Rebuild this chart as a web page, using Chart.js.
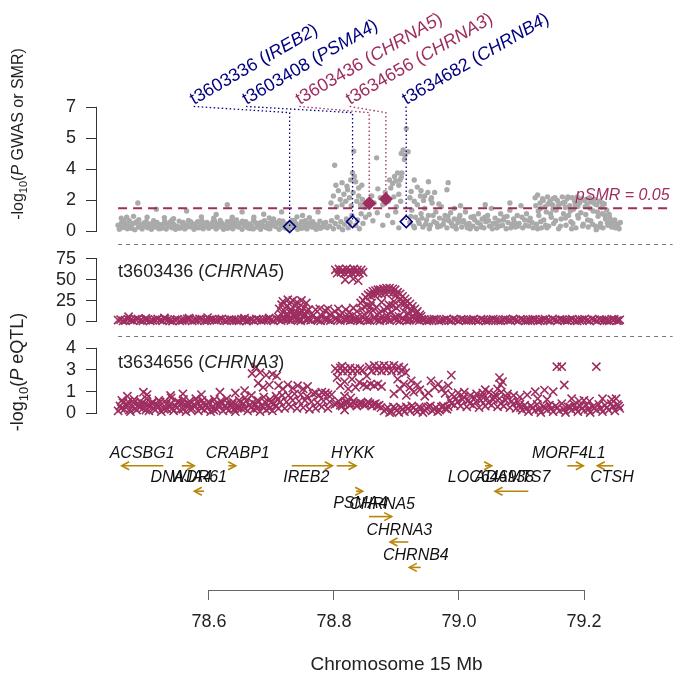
<!DOCTYPE html>
<html>
<head>
<meta charset="utf-8">
<script src="https://cdn.jsdelivr.net/npm/chart.js@4.4.1/dist/chart.umd.min.js"></script>
<style>
  html, body { margin: 0; padding: 0; background: #fff; }
  #wrap { position: relative; width: 680px; height: 678px; }
  #wrap canvas { position: absolute; left: 0; top: 0; }
</style>
</head>
<body>
<div id="wrap">
  <canvas id="gwas" width="680" height="678"></canvas>
  <canvas id="eqtl-a" width="680" height="678"></canvas>
  <canvas id="eqtl-b" width="680" height="678"></canvas>
  <canvas id="genes" width="680" height="678"></canvas>
</div>
<script>
// ---- data (Mb, -log10 P) ----
const gwasLeft = [
  [78.455,.35],[78.457,.12],[78.461,.52],[78.463,.22],[78.467,.41],[78.470,.15],[78.473,.60],[78.476,.28],
  [78.479,.45],[78.482,.10],[78.485,.55],[78.488,.25],[78.491,.38],[78.494,.14],[78.497,.48],[78.500,.30],
  [78.503,.20],[78.506,.42],[78.509,.12],[78.512,.35],[78.515,.25],[78.518,.50],[78.521,.15],[78.524,.38],
  [78.527,.22],[78.530,.45],[78.533,.13],[78.536,.32],[78.539,.52],[78.542,.20],[78.545,.40],[78.548,.12],
  [78.551,.30],[78.554,.58],[78.557,.24],[78.560,.42],[78.563,.14],[78.566,.36],[78.569,.62],[78.572,.26],
  [78.575,.44],[78.578,.12],[78.581,.34],[78.584,.55],[78.587,.22],[78.590,.40],[78.593,.15],[78.596,.30],
  [78.599,.50],[78.602,.18],[78.605,.38],[78.608,.28],[78.611,.60],[78.614,.14],[78.617,.42],[78.620,.26],
  [78.623,.48],[78.626,.12],[78.629,.35],[78.632,.55],[78.635,.22],[78.638,.40],[78.641,.15],[78.644,.30],
  [78.647,.65],[78.650,.25],[78.653,.45],[78.656,.12],[78.659,.38],[78.662,.55],[78.665,.20],[78.668,.42],
  [78.671,.30],[78.674,.14],[78.677,.50],[78.680,.25],[78.683,.40],[78.686,.12],[78.689,.33],[78.692,.60],
  [78.695,.22],[78.698,.45],[78.701,.15],[78.704,.35],[78.707,.70],[78.710,.28],[78.713,.48],[78.716,.12],
  [78.719,.38],[78.722,.58],[78.725,.20],[78.728,.42],[78.731,.14],[78.734,.33],[78.737,.62],[78.740,.25],
  [78.743,.45],[78.746,.12],[78.749,.35],[78.752,.55],[78.755,.22],[78.758,.40],[78.761,.14],[78.764,.30],
  [78.767,.50],[78.770,.24],[78.773,.42],[78.776,.12],[78.779,.36],[78.782,.58],[78.785,.22],[78.788,.45],
  [78.487,1.6],[78.469,.8],[78.502,.8],[78.517,1.25],[78.566,1.15],[78.614,.95],[78.632,1.5],[78.656,1.1],
  [78.691,.97],[78.72,1.1],[78.754,.9],[78.779,1.1],[78.48,.85],[78.53,.78],[78.59,.82],[78.64,.8],
  [78.70,.76],[78.745,.82],[78.46,.75],[78.545,.72],[78.61,.75],[78.675,.8],[78.765,.78]
];
const gwasLeftFill = [
  [78.4585,.25],[78.4645,.62],[78.4705,.38],[78.4765,.18],[78.4825,.48],[78.4885,.66],[78.4945,.3],[78.5005,.55],
  [78.5065,.22],[78.5125,.6],[78.5185,.35],[78.5245,.16],[78.5305,.58],[78.5365,.42],[78.5425,.65],[78.5485,.3],
  [78.5545,.18],[78.5605,.5],[78.5665,.25],[78.5725,.55],[78.5785,.4],[78.5845,.2],[78.5905,.62],[78.5965,.45],
  [78.6025,.3],[78.6085,.52],[78.6145,.35],[78.6205,.62],[78.6265,.25],[78.6325,.18],[78.6385,.6],[78.6445,.48],
  [78.6505,.35],[78.6565,.58],[78.6625,.3],[78.6685,.16],[78.6745,.62],[78.6805,.45],[78.6865,.5],[78.6925,.28],
  [78.6985,.16],[78.7045,.55],[78.7105,.45],[78.7165,.6],[78.7225,.3],[78.7285,.18],[78.7345,.5],[78.7405,.62],
  [78.7465,.3],[78.7525,.18],[78.7585,.6],[78.7645,.45],[78.7705,.55],[78.7765,.28],[78.7825,.18],[78.7885,.3],
  [78.7915,.5],[78.794,.2]
];
const gwasPeak = [
  [78.806,3.73],[78.837,4.52],[78.835,3.3],[78.838,3.1],[78.832,2.9],[78.840,2.8],[78.874,4.15],
  [78.914,4.4],[78.917,4.6],[78.920,4.3],[78.925,4.5],[78.922,5.8],[78.919,4.05],[78.914,3.06],
  [78.905,2.85],[78.910,2.6],[78.900,2.7],[78.935,2.9],[78.940,2.5],[78.946,2.3],[78.958,2.8],
  [78.99,2.75],[78.988,2.35],[78.952,2.0],[78.962,1.8],[78.968,2.2],[78.930,2.25],[78.928,1.9],[78.935,1.7],
  [78.800,1.6],[78.804,2.0],[78.809,1.4],[78.812,2.3],[78.815,1.8],[78.818,1.5],[78.821,2.1],[78.824,1.7],
  [78.827,2.35],[78.830,1.9],[78.833,1.45],[78.836,2.2],[78.842,1.7],[78.845,2.0],[78.848,1.5],[78.851,1.8],
  [78.855,1.35],[78.808,2.6],[78.818,2.75],[78.826,2.55],[78.845,2.45],[78.85,2.6],
  [78.866,2.0],[78.870,1.6],[78.876,2.4],[78.880,1.9],[78.884,1.5],[78.888,2.2],[78.893,1.7],[78.897,2.45],
  [78.902,1.95],[78.906,1.4],[78.910,2.1],[78.913,1.7],[78.895,2.9],[78.903,3.1],[78.908,3.3],[78.915,3.3],[78.912,2.9],
  [78.798,.3],[78.801,.6],[78.804,.15],[78.807,.45],[78.810,.8],[78.813,.25],[78.816,.55],[78.819,.1],
  [78.822,.4],[78.825,.7],[78.828,.2],[78.831,.5],[78.834,.9],[78.840,.35],[78.843,.65],[78.846,.15],
  [78.849,1.0],[78.852,.45],[78.856,.8],[78.862,.95],[78.868,.6],[78.875,1.05],[78.884,.35],[78.892,.9],
  [78.900,.5],[78.905,1.1],[78.91,.2]
];
const gwasRight = [
  [78.928,.5],[78.931,1.2],[78.934,.3],[78.937,.8],[78.940,1.5],[78.943,.45],[78.946,1.0],[78.949,.25],
  [78.952,1.3],[78.955,.65],[78.958,.9],[78.961,.35],[78.964,1.6],[78.967,.55],[78.970,1.1],[78.973,.25],
  [78.976,.75],[78.979,1.4],[78.982,.4],[78.985,.9],[78.988,.2],[78.991,.6],[78.994,1.05],[78.997,.3],
  [79.000,.7],[79.003,.15],[79.006,.5],[79.009,.9],[79.012,.25],[79.015,.6],[79.018,1.1],[79.021,.2],
  [79.024,.45],[79.027,.8],[79.030,.3],[79.033,.65],[79.036,.15],[79.039,1.0],[79.042,.4],[79.045,.7],
  [79.048,.2],[79.051,.55],[79.054,.9],[79.057,.3],[79.060,1.3],[79.063,.45],[79.066,.75],[79.069,.2],
  [79.072,.6],[79.075,1.0],[79.078,.35],[79.081,.8],[79.084,.15],[79.087,.5],[79.090,1.2],[79.093,.4],
  [79.096,.7],[79.099,.25],[79.102,.9],[79.105,.45],[79.108,1.45],[79.111,.2],[79.114,.65],[79.117,1.0],
  [79.120,.3],[79.123,.75],[79.126,.5],
  [78.945,2.0],[78.950,1.75],[78.957,2.2],[78.963,1.9],[78.975,1.55],[79.01,1.45],[79.05,1.5],[79.09,1.6],[79.0,1.3],
  [78.9295,.85],[78.9355,.2],[78.9415,.6],[78.9475,.75],[78.9535,.4],[78.9595,.15],[78.9655,.9],[78.9715,.45],
  [78.9775,.3],[78.9835,.65],[78.9895,.85],[78.9955,.45],[79.0015,.3],[79.0075,.75],[79.0135,.55],[79.0195,.4],
  [79.0255,.15],[79.0315,.85],[79.0375,.5],[79.0435,.25],[79.0495,.8],[79.0555,.6],[79.0615,.15],[79.0675,.45],
  [79.0735,.3],[79.0795,.65],[79.0855,.85],[79.0915,.2],[79.0975,.5],[79.1035,.3],[79.1095,.8],[79.1155,.35],
  [79.1215,.6],[79.1275,.2]
];
const gwasBump = [
  [79.131,1.9],[79.133,.4],[79.135,2.05],[79.137,.9],[79.139,1.6],[79.141,.2],[79.143,1.85],[79.145,.65],
  [79.147,1.4],[79.149,1.1],[79.151,1.95],[79.153,.3],[79.155,1.7],[79.157,.8],[79.159,1.5],[79.161,.45],
  [79.163,1.9],[79.165,1.2],[79.167,1.75],[79.169,.15],[79.171,1.55],[79.173,.7],[79.175,1.95],[79.177,1.0],
  [79.179,1.65],[79.181,.35],[79.183,1.85],[79.185,.9],[79.187,1.45],[79.189,.55],[79.191,1.9],[79.193,1.25],
  [79.195,1.7],[79.197,.2],[79.199,1.95],[79.201,.75],[79.203,1.6],[79.205,1.05],[79.207,1.85],[79.209,.4],
  [79.211,1.75],[79.213,.95],[79.215,1.5],[79.217,.25],[79.219,1.9],[79.221,.6],[79.223,1.65],[79.225,1.15],
  [79.227,1.8],[79.229,.3],[79.231,1.5],[79.233,.85],[79.235,1.7],[79.237,.45],[79.239,1.35],[79.241,.2],
  [79.243,1.55],[79.245,.7],[79.247,1.2],[79.249,.35],[79.251,.95],[79.253,.5],[79.255,.25],[79.258,.6],
  [79.261,.2],[79.264,.4],[79.267,.15],
  [79.14,1.3],[79.16,1.25],[79.18,1.35],[79.2,1.4],[79.22,1.3],[79.24,1.0],[79.15,.2],[79.19,.15],[79.23,.1],[79.135,.15],
  [79.132,1.45],[79.136,1.15],[79.140,.55],[79.144,1.75],[79.148,.35],[79.152,1.55],[79.156,1.0],[79.160,1.85],
  [79.164,.6],[79.168,1.45],[79.172,.3],[79.176,1.6],[79.180,.75],[79.184,1.95],[79.188,1.15],[79.192,.45],
  [79.196,1.5],[79.200,.9],[79.204,1.8],[79.208,.3],[79.212,1.4],[79.216,.65],[79.220,1.7],[79.224,.4],
  [79.228,1.55],[79.232,1.1],[79.236,.25],[79.240,1.6],[79.244,.9],[79.248,.5],[79.252,.75],[79.256,.4],
  [79.260,.65],[79.265,.3],[79.269,.5]
];

// SMR probes
const probeIds = ['t3603336', 't3603408', 't3603436', 't3634656', 't3634682'];
const probeGenes = ['IREB2', 'PSMA4', 'CHRNA5', 'CHRNA3', 'CHRNB4'];
const probeMb = [78.733, 78.835, 78.862, 78.889, 78.922];
const probeSMR = [0.27, 0.55, 1.59, 1.83, 0.55];
const probeSig = [false, false, true, true, false];
const labelMb = [78.5776, 78.6624, 78.7488, 78.8304, 78.9216];
const LABEL_P = 7.05, ELBOW_P = 6.7;
const P_SMR = 0.05;

// eQTL t3603436 (CHRNA5)
const eqtlABase = [
  [78.455,1.5],[78.463,.5],[78.471,2.5],[78.479,1],[78.487,3],[78.495,.5],[78.503,2],[78.511,1.2],
  [78.519,2.8],[78.527,.6],[78.535,1.8],[78.543,.4],[78.551,2.4],[78.559,1],[78.567,3],[78.575,.5],
  [78.583,1.6],[78.591,2.6],[78.599,.8],[78.607,2.2],[78.615,1.2],[78.623,3],[78.631,.5],[78.639,2],
  [78.647,1],[78.655,2.6],[78.663,.4],[78.671,1.8],[78.679,2.8],[78.687,.9],[78.695,2.2],[78.703,1.4],
  [78.711,3],[78.719,.8],[78.727,2],[78.735,1],[78.743,2.5],[78.751,.6],[78.759,1.8],[78.767,1.2],
  [78.775,2.4],[78.783,.5],[78.791,2],[78.799,1],[78.807,2.6],[78.815,.8],[78.823,1.8],[78.831,1],
  [78.839,2.5],[78.847,.6],[78.855,2],[78.863,1.2],[78.871,2.8],[78.879,.7],[78.887,1.9],[78.895,1],
  [78.903,2.6],[78.911,.5],[78.919,2],[78.927,1.3],[78.935,2.8],[78.943,.8],[78.951,2.2],[78.959,1],
  [78.967,2.6],[78.975,.5],[78.983,1.8],[78.991,1.1],[78.999,2.8],[79.007,.6],[79.015,2],[79.023,1.2],
  [79.031,2.5],[79.039,.5],[79.047,1.8],[79.055,1],[79.063,2.6],[79.071,.8],[79.079,2],[79.087,1.3],
  [79.095,2.8],[79.103,.6],[79.111,1.9],[79.119,1],[79.127,2.5],[79.135,.5],[79.143,2],[79.151,1.2],
  [79.159,2.8],[79.167,.7],[79.175,1.8],[79.183,1],[79.191,2.6],[79.199,.5],[79.207,2.1],[79.215,1.2],
  [79.223,2.7],[79.231,.6],[79.239,1.8],[79.247,1],[79.255,2.5],[79.263,.8],[79.268,1.8],
  [78.472,5.5],[78.53,4],[78.6,4.5],[78.66,3.8],[78.7,4.2],[78.5,3.5],[78.57,3.8]
];
const eqtlABaseFill = [
  [78.459,2],[78.467,.8],[78.475,1.5],[78.483,2.6],[78.491,1],[78.499,2.2],[78.507,.6],[78.515,2],
  [78.523,1.4],[78.531,2.8],[78.539,1],[78.547,2],[78.555,.6],[78.563,1.8],[78.571,2.4],[78.579,1.2],
  [78.587,2.8],[78.595,.7],[78.603,2],[78.611,1.4],[78.619,2.5],[78.627,.8],[78.635,2.2],[78.643,1.5],
  [78.651,.6],[78.659,2.4],[78.667,1.2],[78.675,.8],[78.683,2],[78.691,1.5],[78.699,2.8],[78.707,.6],
  [78.715,2],[78.731,2.5],[78.747,1.5],[78.763,2.5],[78.779,1.2],[78.795,2],[78.811,1.5],[78.827,2.5],
  [78.843,1.5],[78.859,1],[78.875,1.5],[78.891,2.5],[78.907,1.5],[78.923,1],[78.939,1.8],[78.947,2.5],
  [78.955,.7],[78.963,1.8],[78.971,2.4],[78.979,1.2],[78.987,2.6],[78.995,.6],[79.003,1.8],[79.011,2.5],
  [79.019,.8],[79.027,1.6],[79.035,1.2],[79.043,2.6],[79.051,.7],[79.059,2],[79.067,1.6],[79.075,.6],
  [79.083,2.4],[79.091,1.2],[79.099,1.8],[79.107,2.6],[79.115,.6],[79.123,1.6],[79.131,2.2],[79.139,1],
  [79.147,2.6],[79.155,.6],[79.163,1.8],[79.171,2.4],[79.179,1.2],[79.187,2],[79.195,.8],[79.203,1.6],
  [79.211,2.6],[79.219,.5],[79.227,1.8],[79.235,2.4],[79.243,1.2],[79.251,.7],[79.259,2.2],[79.266,1]
];
const eqtlABlock = [
  [78.722,24],[78.730,26],[78.738,25],[78.745,23],[78.752,25],[78.760,22],
  [78.716,15],[78.720,20],[78.725,12],[78.728,18],[78.733,21],[78.736,14],[78.741,19],[78.744,11],
  [78.748,17],[78.752,13],[78.756,16],[78.760,12],[78.764,14],
  [78.719,9],[78.727,8],[78.735,10],[78.742,7],[78.75,9],[78.758,8],
  [78.775,14],[78.782,15],[78.790,13],[78.795,15],
  [78.715,5],[78.722,3],[78.729,6],[78.736,4],[78.743,7],[78.750,3],[78.757,6],[78.764,4],
  [78.771,7],[78.778,3],[78.785,6],[78.792,4],[78.799,8]
];
const eqtlATop = [
  [78.807,62],[78.810,58],[78.813,63],[78.816,59],[78.819,62],[78.822,58],[78.825,63],[78.828,59],
  [78.831,62],[78.834,58],[78.837,63],[78.840,59],[78.843,62],[78.846,58],[78.849,62],[78.852,59],
  [78.823,50],[78.836,51],[78.844,49],
  [78.806,12],[78.812,15],[78.818,10],[78.824,14],[78.830,11],[78.836,16],[78.842,12],
  [78.808,4],[78.815,7],[78.822,3],[78.829,6],[78.836,2],[78.843,5]
];
const eqtlAHump = [
  [78.848,22],[78.852,25],[78.856,29],[78.860,32],[78.864,34],[78.868,36],[78.872,37],[78.876,38],
  [78.880,38],[78.885,39],[78.890,40],[78.895,40],[78.900,39],[78.904,38],[78.908,35],[78.912,33],
  [78.916,30],[78.920,27],[78.924,24],[78.928,21],[78.932,18],[78.936,15],[78.940,12],[78.944,8],
  [78.864,30],[78.870,32],[78.876,33],[78.882,33],[78.888,34],[78.894,35],[78.900,34],[78.906,32],
  [78.850,15],[78.854,8],[78.858,19],[78.862,12],[78.866,22],[78.870,5],[78.874,17],[78.878,10],
  [78.882,23],[78.886,14],[78.890,7],[78.894,20],[78.898,11],[78.902,24],[78.906,16],[78.910,6],
  [78.914,21],[78.918,12],[78.922,18],[78.926,9],[78.930,14],[78.934,6],[78.938,10],[78.942,4],
  [78.946,6],[78.856,3],[78.868,13],[78.880,4],[78.892,16],[78.904,5],[78.916,4],[78.928,3],
  [78.9,19],[78.912,26],[78.92,22],[78.864,18]
];

// eQTL t3634656 (CHRNA3)
const eqtlBLeft = [
  [78.455,.15],[78.458,.45],[78.461,.8],[78.465,.25],[78.468,.55],[78.471,.7],[78.475,.1],[78.478,.4],
  [78.481,.85],[78.485,.2],[78.488,.5],[78.491,.75],[78.495,.3],[78.498,.6],[78.501,.9],[78.505,.15],
  [78.508,.45],[78.511,.7],[78.515,.2],[78.518,.55],[78.521,.8],[78.525,.1],[78.528,.35],[78.531,.75],
  [78.535,.25],[78.538,.5],[78.541,.95],[78.545,.15],[78.548,.45],[78.551,.7],[78.555,.2],[78.558,.6],
  [78.561,.85],[78.565,.1],[78.568,.4],[78.571,.75],[78.575,.3],[78.578,.55],[78.581,.9],[78.585,.15],
  [78.588,.45],[78.591,.8],[78.595,.2],[78.598,.5],[78.601,.7],[78.605,.1],[78.608,.4],[78.611,.85],
  [78.615,.25],[78.618,.55],[78.621,.75],[78.625,.15],[78.628,.45],[78.631,.9],[78.635,.2],[78.638,.5],
  [78.641,.7],[78.645,.1],[78.648,.35],[78.651,.8],[78.655,.3],[78.658,.6],[78.661,.95],[78.665,.15],
  [78.668,.5],[78.671,1.1],[78.675,.25],[78.678,.55],[78.681,.8],[78.685,.1],[78.688,.45],[78.691,1.0],
  [78.695,.2],[78.698,.5],[78.701,.85],[78.705,.15],[78.708,.6],[78.711,1.05],[78.715,.3],[78.718,.7],
  [78.721,1.1],
  [78.47,1.05],[78.496,1.3],[78.502,1.15],[78.54,1.1],[78.56,1.2],[78.59,1.15],[78.62,1.3],[78.645,1.25],[78.66,1.4]
];
const eqtlBLeftFill = [
  [78.46,.3],[78.463,.65],[78.47,.5],[78.473,.2],[78.48,.65],[78.483,.3],[78.49,.35],[78.493,.6],
  [78.50,.2],[78.503,.5],[78.51,.6],[78.513,.3],[78.52,.4],[78.523,.7],[78.53,.25],[78.533,.55],
  [78.54,.6],[78.543,.3],[78.55,.35],[78.553,.7],[78.56,.25],[78.563,.55],[78.57,.6],[78.573,.2],
  [78.58,.45],[78.583,.7],[78.59,.3],[78.593,.6],[78.60,.35],[78.603,.65],[78.61,.2],[78.613,.55],
  [78.62,.45],[78.623,.7],[78.63,.3],[78.633,.6],[78.64,.55],[78.643,.25],[78.65,.4],[78.653,.7],
  [78.66,.3],[78.663,.75],[78.67,.35],[78.673,.65],[78.68,.3],[78.683,.75],[78.69,.4],[78.693,.7],
  [78.70,.3],[78.703,.65],[78.71,.45],[78.713,.85]
];
const eqtlBMid = [
  [78.725,.3],[78.728,.7],[78.731,1.1],[78.735,.4],[78.738,.8],[78.741,1.2],[78.745,.3],[78.748,.75],
  [78.751,1.15],[78.755,.35],[78.758,.8],[78.761,1.05],[78.765,.25],[78.768,.7],[78.771,1.2],[78.775,.3],
  [78.778,.65],[78.781,1.1],[78.785,.4],[78.788,.75],[78.791,1.25],[78.795,.3],[78.798,.7],[78.801,1.15],
  [78.715,1.7],[78.722,1.5],[78.73,1.75],[78.738,1.55],[78.746,1.7],[78.755,1.5],[78.762,1.65],
  [78.775,1.25],[78.785,1.3],[78.795,1.15],
  [78.678,2.85],[78.672,2.45],[78.685,2.5],[78.695,2.35],[78.705,2.4],[78.712,2.3],[78.682,1.85],[78.69,1.6],[78.70,1.75]
];
const eqtlBCentre = [
  [78.807,2.75],[78.811,2.6],[78.815,2.8],[78.819,2.6],[78.823,2.75],[78.827,2.6],[78.831,2.8],[78.835,2.6],
  [78.839,2.75],[78.843,2.6],[78.847,2.75],[78.851,2.65],[78.818,2.9],
  [78.810,2.2],[78.815,1.7],[78.822,1.95],[78.828,1.5],[78.834,2.1],[78.84,1.6],[78.846,1.9],[78.822,1.05],[78.832,.95],
  [78.806,.55],[78.812,.75],[78.818,.45],[78.824,.7],[78.83,.5],[78.836,.75],[78.842,.45],[78.848,.65],
  [78.854,.5],[78.86,.7],[78.866,.45],[78.872,.6],[78.878,.5],[78.822,.2],
  [78.809,.6],[78.815,.5],[78.821,.6],[78.827,.65],[78.833,.55],[78.839,.6],[78.845,.6],[78.851,.6],
  [78.857,.55],[78.863,.6],[78.869,.55],[78.875,.45],[78.881,.35],
  [78.862,2.85],[78.866,2.6],[78.870,2.95],[78.874,2.65],[78.878,2.9],[78.882,2.6],[78.886,2.95],[78.890,2.65],
  [78.894,2.9],[78.898,2.6],[78.902,2.95],[78.906,2.65],[78.910,2.85],[78.914,2.6],[78.918,2.8],[78.921,2.5],[78.858,2.3],
  [78.853,1.75],[78.858,1.65],[78.864,1.8],[78.870,1.7],[78.876,1.8],[78.882,1.65],
  [78.886,.15],[78.892,.35],[78.898,.1],[78.904,.3],[78.910,.05],[78.916,.25],[78.922,.4],[78.928,.15],
  [78.934,.35],[78.94,.1],[78.946,.3],[78.952,.2],[78.958,.4],[78.964,.15],[78.97,.35],[78.976,.2],
  [78.982,.45],[78.988,.25],
  [78.889,.25],[78.895,.05],[78.901,.4],[78.907,.2],[78.913,.35],[78.919,.1],[78.925,.3],[78.931,.45],
  [78.937,.2],[78.943,.4],[78.949,.05],[78.955,.3],[78.961,.45],[78.967,.25],[78.973,.1],[78.979,.4],[78.985,.3],
  [78.902,1.2],[78.908,2.1],[78.912,1.5],[78.918,1.8],[78.922,1.1],[78.928,1.6],[78.934,1.3],[78.94,1.75],
  [78.944,1.45],[78.93,2.0],[78.952,1.05],[78.958,1.25],[78.962,2.0],[78.968,1.6],[78.974,1.8],[78.98,1.5],
  [78.99,1.7],[78.995,2.35],[78.985,1.23]
];
const eqtlBRight = [
  [78.99,.4],[78.993,.8],[78.996,1.15],[79.0,.5],[79.003,.9],[79.006,1.25],[79.01,.45],[79.013,.85],
  [79.016,1.3],[79.02,.4],[79.023,.8],[79.026,1.1],[79.03,.5],[79.033,.95],[79.036,1.2],[79.04,.35],
  [79.043,.8],[79.046,1.25],[79.05,.45],[79.053,.9],[79.056,1.3],[79.06,.5],[79.063,.85],[79.066,1.15],
  [79.07,.4],[79.073,.9],[79.076,1.3],[79.08,.45],[79.083,.8],[79.086,1.2],[79.09,.35],[79.093,.75],
  [79.096,1.1],[79.10,.3],[79.103,.7],[79.106,1.0],
  [78.995,.6],[79.005,.7],[79.015,1.0],[79.025,.6],[79.035,.7],[79.045,1.05],[79.055,.65],[79.065,1.0],
  [79.075,.6],[79.085,1.0],[79.095,.55],[79.105,.5],
  [79.073,2.2],[79.078,1.95],[79.075,1.75],[79.070,1.5],[79.05,1.45],
  [79.11,.2],[79.114,.5],[79.12,.1],[79.124,.45],[79.13,.15],[79.134,.55],[79.14,.05],[79.144,.4],
  [79.15,.2],[79.154,.5],[79.16,.1],[79.164,.45],[79.17,.15],[79.174,.6],[79.18,.05],[79.184,.4],
  [79.19,.2],[79.194,.55],[79.20,.1],[79.204,.45],[79.21,.15],[79.214,.5],[79.22,.05],[79.224,.4],
  [79.23,.2],[79.234,.55],[79.24,.1],[79.244,.5],[79.25,.2],[79.254,.6],[79.26,.15],[79.264,.55],[79.268,.3],
  [79.107,.35],[79.117,.3],[79.127,.35],[79.137,.25],[79.147,.35],[79.157,.3],[79.167,.35],[79.177,.25],
  [79.187,.4],[79.197,.3],[79.207,.3],[79.217,.25],[79.227,.35],[79.237,.3],[79.247,.35],[79.257,.4],[79.266,.45],
  [79.118,1.13],[79.131,1.33],[79.146,1.43],[79.16,1.33],[79.166,2.87],[79.174,2.87],[79.178,1.74],
  [79.202,.75],[79.21,.8],[79.219,.75],[79.23,2.87],[79.24,.9],[79.255,.85],[79.262,.9],[79.135,.9],[79.15,.85],[79.19,.9]
];

// genes
const geneNames = ['ACSBG1','DNAJA4','WDR61','CRABP1','IREB2','HYKK','PSMA4','CHRNA5','CHRNA3','CHRNB4','LOC646938','ADAMTS7','MORF4L1','CTSH'];
const geneStart = [78.4603,78.5563,78.5765,78.631,78.7323,78.8043,78.8352,78.856,78.8896,78.9205,79.0416,79.0576,79.1733,79.2213];
const geneEnd = [78.5269,78.5765,78.592,78.6427,78.7973,78.8352,78.8459,78.8923,78.9189,78.9387,79.0523,79.1109,79.1989,79.2469];
const geneStrand = ['-','+','-','+','+','+','+','+','-','-','+','-','+','-'];
const geneRow = [0,0,1,0,0,0,1,2,3,4,0,1,0,0];
const geneLabelMb = [78.493,78.5555,78.584,78.646,78.7557,78.830,78.842,78.877,78.9046,78.931,79.0512,79.0858,79.1757,79.2448];
const geneLabelRow = [-0.47,0.48,0.48,-0.47,0.48,-0.47,1.48,1.53,2.53,3.53,0.48,0.48,-0.47,0.48];

// ticks (R style: evenly spaced positions, rounded labels)
const gwasTicks = [0, 1.75, 3.5, 5.25, 7];
const gwasTickText = ['0', '2', '4', '5', '7'];
const eqtlATicks = [0, 25, 50, 75];
const eqtlATickText = ['0', '25', '50', '75'];
const eqtlBTicks = [0, 1.333, 2.667, 4];
const eqtlBTickText = ['0', '1', '3', '4'];
const xTicks = [78.6, 78.8, 79.0, 79.2];
const xTickText = ['78.6', '78.8', '79.0', '79.2'];

// ---- style / layout ----
const FONT = "'Liberation Sans', Arial, Helvetica, sans-serif";
const GRAY = '#aaaaaa';
const MAROON = '#9e2d60';
const NAVY = '#000080';
const GOLD = '#b8860b';
const INK = '#222222';
const X_MIN = 78.4208, X_MAX = 79.3536;

Chart.defaults.font.family = FONT;
Chart.defaults.color = INK;

const pts = a => a.map(p => ({ x: p[0], y: p[1] }));
const allGwas = gwasLeft.concat(gwasLeftFill, gwasPeak, gwasRight, gwasBump);
const firstSnp = Math.min(...allGwas.map(p => p[0]));

function fontFor(p, size) {
  const s = p.sub ? Math.round(size * 0.7) : size;
  return (p.italic ? 'italic ' : '') + s + 'px ' + FONT;
}
function richWidth(ctx, parts, size) {
  let w = 0;
  for (const p of parts) { ctx.font = fontFor(p, size); w += ctx.measureText(p.t).width; }
  return w;
}
function drawRich(ctx, parts, x, y, size) {
  ctx.textAlign = 'left';
  ctx.textBaseline = 'alphabetic';
  for (const p of parts) {
    ctx.font = fontFor(p, size);
    ctx.fillText(p.t, x, y + (p.sub ? size * 0.25 : 0));
    x += ctx.measureText(p.t).width;
  }
}
function drawVTitle(ctx, parts, cx, cy, size) {
  ctx.save();
  ctx.translate(cx, cy);
  ctx.rotate(-Math.PI / 2);
  ctx.fillStyle = INK;
  const w = richWidth(ctx, parts, size);
  drawRich(ctx, parts, -w / 2, size * 0.36, size);
  ctx.restore();
}
function drawYAxisLine(ctx, s, ticks) {
  const x = Math.round(s.right) - 0.5;
  ctx.save();
  ctx.strokeStyle = '#333';
  ctx.lineWidth = 1;
  ctx.beginPath();
  ctx.moveTo(x, s.getPixelForValue(ticks[0]) + 0.5);
  ctx.lineTo(x, s.getPixelForValue(ticks[ticks.length - 1]) - 0.5);
  ctx.stroke();
  ctx.restore();
}
function drawSeparator(chart) {
  const { ctx, chartArea, scales: { x } } = chart;
  const y = Math.round(chartArea.top) + 0.5;
  ctx.save();
  ctx.strokeStyle = '#777';
  ctx.lineWidth = 1;
  ctx.setLineDash([4, 4]);
  ctx.beginPath();
  ctx.moveTo(x.getPixelForValue(firstSnp), y);
  ctx.lineTo(chartArea.right, y);
  ctx.stroke();
  ctx.restore();
}

function hiddenX() {
  return { type: 'linear', min: X_MIN, max: X_MAX, bounds: 'data', display: false };
}
function rAxisY(min, max, ticks, text) {
  return {
    type: 'linear', min, max, bounds: 'data',
    afterFit: s => { s.width = 97; s.paddingTop = 0; s.paddingBottom = 0; },
    afterBuildTicks: s => { s.ticks = ticks.map(v => ({ value: v })); },
    ticks: { autoSkip: false, padding: 10, color: INK, font: { size: 18 }, callback: (v, i) => text[i] },
    grid: { drawOnChartArea: false, drawTicks: true, tickLength: 11, color: '#333' },
    border: { display: false }
  };
}
function baseOptions(top, bottom, left, scales) {
  return {
    responsive: false, animation: false, devicePixelRatio: 1, events: [],
    layout: { padding: { top, bottom, left, right: 0 } },
    plugins: { legend: { display: false }, tooltip: { enabled: false } },
    scales
  };
}
function crosses(data) {
  return {
    data: pts(data), pointStyle: 'crossRot', pointRadius: 5.8,
    pointBorderColor: MAROON, pointBackgroundColor: MAROON, pointBorderWidth: 1.6
  };
}

// ---- panel 1: GWAS / SMR ----
const probeLines = probeIds.map((id, i) => ({
  data: [{ x: labelMb[i], y: LABEL_P }, { x: probeMb[i], y: ELBOW_P }, { x: probeMb[i], y: probeSMR[i] }],
  showLine: true, borderColor: probeSig[i] ? MAROON : NAVY, borderWidth: 1.3, borderDash: [1.5, 2.5],
  pointRadius: 0, order: 6
}));

new Chart(document.getElementById('gwas'), {
  type: 'scatter',
  data: {
    datasets: [
      { data: pts(allGwas), pointRadius: 2.7, pointBackgroundColor: GRAY, pointBorderWidth: 0, order: 10 },
      {
        data: [{ x: firstSnp, y: -Math.log10(P_SMR) }, { x: X_MAX, y: -Math.log10(P_SMR) }],
        showLine: true, borderColor: MAROON, borderWidth: 2, borderDash: [9, 6], pointRadius: 0, order: 8
      },
      ...probeLines,
      {
        data: probeMb.map((m, i) => ({ x: m, y: probeSMR[i] })),
        pointStyle: 'rectRot', pointRadius: 6, pointBorderWidth: 1.5,
        pointBorderColor: probeSig.map(s => s ? MAROON : NAVY),
        pointBackgroundColor: probeSig.map(s => s ? MAROON : 'rgba(0,0,0,0)'),
        order: 1
      }
    ]
  },
  options: baseOptions(0, 434, 0, { x: hiddenX(), y: rAxisY(-0.7109, 12.6328, gwasTicks, gwasTickText) }),
  plugins: [{
    id: 'gwasDecor',
    afterDraw(chart) {
      const { ctx, scales: { x, y } } = chart;
      drawYAxisLine(ctx, y, gwasTicks);
      probeIds.forEach((id, i) => {
        ctx.save();
        ctx.translate(x.getPixelForValue(labelMb[i]), y.getPixelForValue(LABEL_P));
        ctx.rotate(-Math.PI / 6);
        ctx.fillStyle = probeSig[i] ? MAROON : NAVY;
        drawRich(ctx, [{ t: id + ' (' }, { t: probeGenes[i], italic: true }, { t: ')' }], 1, -1, 18);
        ctx.restore();
      });
      ctx.save();
      ctx.fillStyle = MAROON;
      ctx.font = 'italic 16px ' + FONT;
      ctx.textAlign = 'right';
      ctx.textBaseline = 'alphabetic';
      ctx.fillText('pSMR = 0.05', x.getPixelForValue(79.349), y.getPixelForValue(1.75));
      ctx.restore();
      drawVTitle(ctx, [{ t: '-log' }, { t: '10', sub: true }, { t: '(' }, { t: 'P', italic: true }, { t: ' GWAS or SMR)' }], 17, 134, 16);
    }
  }]
});

// ---- panel 2: eQTL CHRNA5 ----
new Chart(document.getElementById('eqtl-a'), {
  type: 'scatter',
  data: { datasets: [crosses(eqtlABase.concat(eqtlABaseFill, eqtlABlock, eqtlATop, eqtlAHump))] },
  options: baseOptions(244, 342, 0, { x: hiddenX(), y: rAxisY(-17.697, 93.057, eqtlATicks, eqtlATickText) }),
  plugins: [{
    id: 'eqtlADecor',
    beforeDatasetsDraw(chart) { drawSeparator(chart); },
    afterDraw(chart) {
      const { ctx, scales: { x, y } } = chart;
      drawYAxisLine(ctx, y, eqtlATicks);
      ctx.save();
      ctx.fillStyle = INK;
      drawRich(ctx, [{ t: 't3603436 (' }, { t: 'CHRNA5', italic: true }, { t: ')' }], x.getPixelForValue(78.455), y.getPixelForValue(52.8), 18);
      ctx.restore();
      drawVTitle(ctx, [{ t: '-log' }, { t: '10', sub: true }, { t: '(' }, { t: 'P', italic: true }, { t: ' eQTL)' }], 17, 372, 18);
    }
  }]
});

// ---- panel 3: eQTL CHRNA3 ----
new Chart(document.getElementById('eqtl-b'), {
  type: 'scatter',
  data: { datasets: [crosses(eqtlBLeft.concat(eqtlBLeftFill, eqtlBMid, eqtlBCentre, eqtlBRight))] },
  options: baseOptions(336, 248, 0, { x: hiddenX(), y: rAxisY(-1.0277, 4.757, eqtlBTicks, eqtlBTickText) }),
  plugins: [{
    id: 'eqtlBDecor',
    beforeDatasetsDraw(chart) { drawSeparator(chart); },
    afterDraw(chart) {
      const { ctx, scales: { x, y } } = chart;
      drawYAxisLine(ctx, y, eqtlBTicks);
      ctx.save();
      ctx.fillStyle = INK;
      drawRich(ctx, [{ t: 't3634656 (' }, { t: 'CHRNA3', italic: true }, { t: ')' }], x.getPixelForValue(78.455), y.getPixelForValue(2.78), 18);
      ctx.restore();
    }
  }]
});

// ---- gene track + x axis ----
new Chart(document.getElementById('genes'), {
  type: 'scatter',
  data: {
    datasets: geneNames.map((g, i) => {
      const a = geneStrand[i] === '+' ? geneStart[i] : geneEnd[i];
      const b = geneStrand[i] === '+' ? geneEnd[i] : geneStart[i];
      return {
        data: [{ x: a, y: geneRow[i] }, { x: b, y: geneRow[i] }],
        showLine: true, borderColor: GOLD, borderWidth: 1.6, pointRadius: 0
      };
    })
  },
  options: baseOptions(430, 0, 97, {
    x: {
      type: 'linear', min: X_MIN, max: X_MAX, bounds: 'data', position: 'bottom',
      afterFit: s => { s.height = 88; s.paddingLeft = 0; s.paddingRight = 0; },
      afterBuildTicks: s => { s.ticks = xTicks.map(v => ({ value: v })); },
      ticks: { autoSkip: false, maxRotation: 0, padding: 11, color: INK, font: { size: 18 }, callback: (v, i) => xTickText[i] },
      grid: { drawOnChartArea: false, drawTicks: true, tickLength: 10, color: '#666' },
      border: { display: false }
    },
    y: { type: 'linear', reverse: true, min: -1.4094, max: 4.8898, bounds: 'data', display: false }
  }),
  plugins: [{
    id: 'geneDecor',
    afterDatasetsDraw(chart) {
      const { ctx, scales: { x, y } } = chart;
      ctx.save();
      ctx.strokeStyle = GOLD;
      ctx.lineWidth = 1.6;
      chart.data.datasets.forEach((ds, i) => {
        const tip = chart.getDatasetMeta(i).data[1];
        const dir = geneStrand[i] === '+' ? 1 : -1;
        ctx.beginPath();
        ctx.moveTo(tip.x - dir * 7.5, tip.y - 4);
        ctx.lineTo(tip.x, tip.y);
        ctx.lineTo(tip.x - dir * 7.5, tip.y + 4);
        ctx.stroke();
      });
      ctx.fillStyle = '#111';
      ctx.font = 'italic 16px ' + FONT;
      ctx.textAlign = 'center';
      ctx.textBaseline = 'middle';
      geneNames.forEach((g, i) => {
        ctx.fillText(g, x.getPixelForValue(geneLabelMb[i]), y.getPixelForValue(geneLabelRow[i]));
      });
      ctx.restore();
    },
    afterDraw(chart) {
      const { ctx, chartArea, scales: { x } } = chart;
      const yLine = Math.round(chartArea.bottom) + 0.5;
      const x0 = x.getPixelForValue(xTicks[0]);
      const x1 = x.getPixelForValue(xTicks[xTicks.length - 1]);
      ctx.save();
      ctx.strokeStyle = '#666';
      ctx.lineWidth = 1;
      ctx.beginPath();
      ctx.moveTo(x0 - 0.5, yLine);
      ctx.lineTo(x1 + 0.5, yLine);
      ctx.stroke();
      ctx.fillStyle = INK;
      ctx.font = '19px ' + FONT;
      ctx.textAlign = 'center';
      ctx.textBaseline = 'middle';
      ctx.fillText('Chromosome 15 Mb', (x0 + x1) / 2, 665);
      ctx.restore();
    }
  }]
});
</script>
</body>
</html>
